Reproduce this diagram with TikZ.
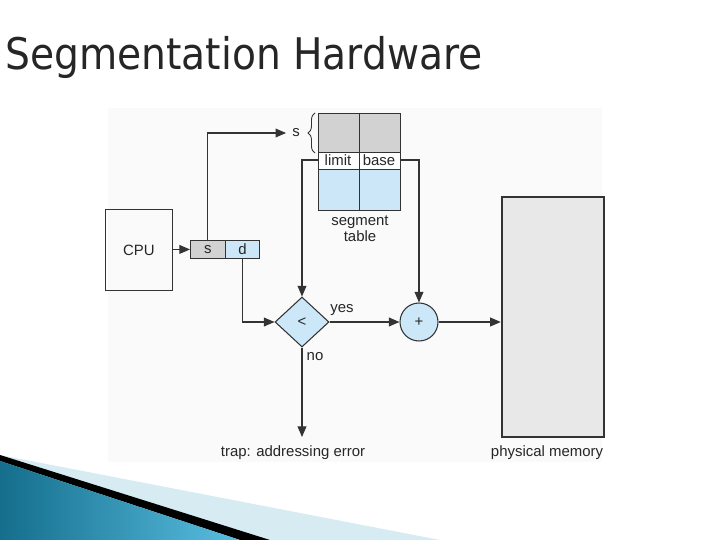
\documentclass[tikz,border=0pt]{standalone}
\usepackage{fontspec}
\setmainfont{Liberation Sans}
\newfontfamily\titlefont{DejaVu Sans Condensed}
\usetikzlibrary{arrows.meta,shapes.geometric,decorations.pathreplacing}
\definecolor{lb}{RGB}{204,232,248}
\definecolor{gr}{RGB}{210,210,210}
\definecolor{mem}{RGB}{232,232,232}
\definecolor{teal1}{RGB}{20,110,140}
\definecolor{teal2}{RGB}{90,190,225}
\definecolor{pale}{RGB}{215,235,242}
\tikzset{
  lbl/.style={font=\fontsize{8.5}{10}\selectfont, text=black!85},
  conn/.style={draw=black!80, line width=0.6pt, -{Triangle[length=6pt,width=5pt]}},
  cell/.style={draw=black!80, line width=0.5pt},
}
\begin{document}
\begin{tikzpicture}[x=0.02cm,y=-0.02cm]
\useasboundingbox (0,0) rectangle (720,540);
% decoration
\fill[pale] (0,455) -- (440,540) -- (250,540) -- cycle;
\fill[black] (0,455) -- (270,540) -- (240,540) -- (0,461) -- cycle;
\shade[left color=teal1, right color=teal2] (0,461) -- (240,540) -- (0,540) -- cycle;
% title
\node[anchor=west, font=\titlefont\fontsize{24.8}{28}\selectfont, text=black!85, inner sep=0pt] (title) at (5,57) {Segmentation Hardware};
% figure background
\fill[black!2] (108,108) rectangle (602,462);
% CPU
\node[cell, minimum width=67*0.02cm, minimum height=81*0.02cm, lbl, anchor=north west] (cpu) at (105,209) {CPU};
\node[cell, fill=gr, minimum width=35*0.02cm, minimum height=18*0.02cm, lbl, anchor=north west, inner sep=0pt] (s) at (190,240) {s};
\node[cell, fill=lb, minimum width=34*0.02cm, minimum height=18*0.02cm, lbl, anchor=north west, inner sep=0pt] (d) at (225,240) {d};
% segment table
\fill[gr] (318,113) rectangle (400,152);
\fill[white] (318,152) rectangle (400,169);
\fill[lb] (318,169) rectangle (400,210);
\draw[cell] (318,113) rectangle (400,210);
\draw[cell] (359,113) -- (359,210);
\draw[cell] (318,152) -- (400,152) (318,169) -- (400,169);
\node[lbl] (limit) at (338,160) {limit};
\node[lbl] (base) at (379,160) {base};
\node[lbl, align=center] (segtab) at (360,229) {segment\\[-1pt]table};
\node[lbl] (sidx) at (296,133) {s};
\draw[black!80, line width=0.5pt, decorate, decoration={brace, amplitude=4pt}] (315,153) -- (315,113);
\coordinate (limitL) at (318,160);
\coordinate (baseR) at (400,160);
% diamond & adder
\node[diamond, draw=black!80, fill=lb, line width=0.6pt, minimum width=54*0.02cm, minimum height=50*0.02cm, inner sep=0pt, lbl] (cmp) at (302,322) {<};
\node[circle, draw=black!80, fill=lb, line width=0.6pt, minimum size=38*0.02cm, inner sep=0pt, lbl] (add) at (419,322) {+};
% memory
\draw[black!80, line width=1.2pt, fill=mem] (502,197) rectangle (604,437);
\node[draw=none, inner sep=0pt] (memL) at (502,322) {};
% labels
\node[lbl] (yes) at (342,310) {yes};
\node[lbl] (no) at (315,357) {no};
\node[lbl] (trap) at (293,453) {trap: addressing error};
\node[lbl] (pm) at (547,453) {physical memory};
\coordinate (trapT) at (302,437);
% connectors
\draw[conn] (cpu.east |- s.west) -- (s.west);
\draw[conn] (s.north) |- (sidx.west);
\draw[conn] (limitL) -| (cmp.north);
\draw[conn] (d.south) |- (cmp.west);
\draw[conn] (baseR) -| (add.north);
\draw[conn] (cmp.east) -- (add.west);
\draw[conn] (add.east) -- (memL);
\draw[conn] (cmp.south) -- (trapT);
\end{tikzpicture}
\end{document}
